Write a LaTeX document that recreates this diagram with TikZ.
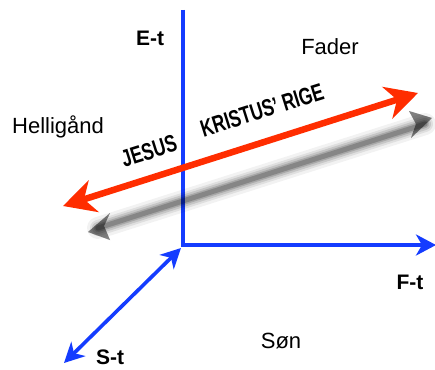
\documentclass[tikz,border=0pt]{standalone}
\usepackage{fontspec}
\setmainfont{Liberation Sans}
\usetikzlibrary{arrows.meta}
\definecolor{akseblaa}{RGB}{20,60,255}
\definecolor{rigerod}{RGB}{255,45,0}
\begin{document}
\begin{tikzpicture}[x=1pt,y=-1pt,line join=miter,
  akse/.style={color=akseblaa,line width=3.6pt},
  blaapil/.style={-{Stealth[length=20pt,width=21pt,inset=6pt]}},
  stor/.style={font=\fontsize{21}{23}\selectfont\bfseries},
  navn/.style={font=\fontsize{22}{24}\selectfont},
  rige/.style={font=\fontsize{24}{26}\selectfont\bfseries,rotate=17.5,xscale=0.72}]
			\useasboundingbox[fill=white] (0,0) rectangle (435,369);
			\path (183,245) coordinate (O);
			\path (183,10) coordinate (E);
			\path (436,245) coordinate (F);
			\path (181,248) coordinate (S1);
			\path (64,363) coordinate (S2);
			\path (63,206) coordinate (R1);
			\path (418,93) coordinate (R2);
			% akserne
			\draw[akse] (E) -- (O.center) -- ([xshift=-4pt]F);
			\draw[akse,blaapil] (O) -- (F);
			\draw[akse,{Stealth[length=20pt,width=20pt,inset=6pt]}-{Stealth[length=20pt,width=20pt,inset=6pt]}] (S1) -- (S2);
			% skygge
			\foreach \w/\o in {22/0.05,16/0.08,12/0.11,8/0.15,5/0.2}
			  \draw[black,opacity=\o,line width=\w pt,line cap=round] (98,228) -- (425,124);
			\foreach \o in {0.15,0.25,0.2}
			  \fill[black,opacity=\o] (88,232) -- (110,213) -- (104,226) -- (110,240) -- cycle
			    (432,118) -- (409,111) -- (416,124) -- (411,138) -- cycle;
			% rigets pil
			\draw[color=rigerod,line width=6.5pt,{Stealth[length=32pt,width=33pt,inset=10pt]}-{Stealth[length=32pt,width=33pt,inset=10pt]}] (R1) -- (R2);
			% tekster
			\node[stor] (Et) at (150,38) {E-t};
			\node[stor] (Ft) at (410,282) {F-t};
			\node[stor] (St) at (110,357) {S-t};
			\node[navn] (fader) at (330,47) {Fader};
			\node[navn] (hellig) at (58,127) {Helligånd};
			\node[navn] (son) at (281,341) {Søn};
			\node[rige] (jesus) at (149,151) {JESUS};
			\node[rige] (kristus) at (262,110) {KRISTUS’ RIGE};
		\end{tikzpicture}
\end{document}
